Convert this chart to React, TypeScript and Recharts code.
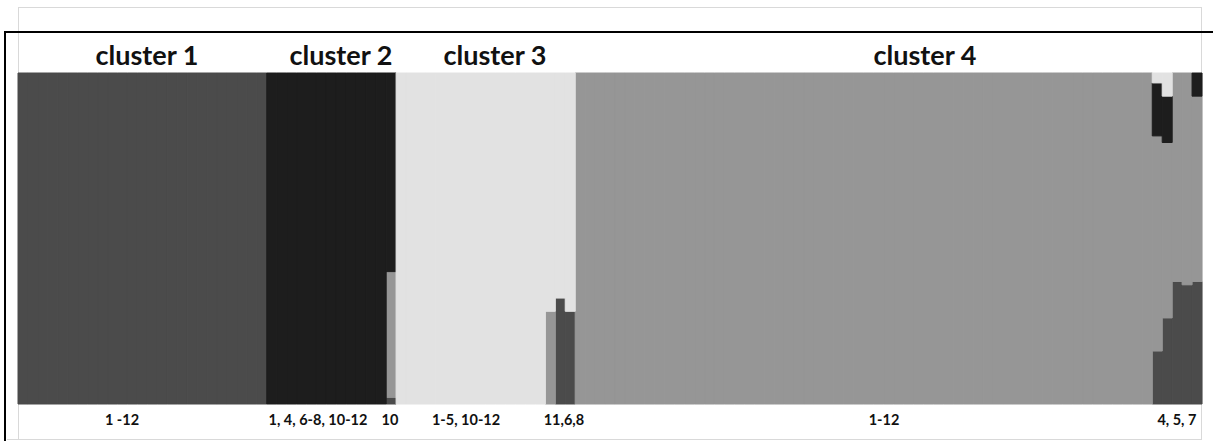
import { BarChart, Bar, XAxis, YAxis } from "recharts";

// membership colours (bottom to top of each stacked column)
const COLORS = {
  q1: "#4b4b4b",
  q4: "#969696",
  q2: "#1d1d1d",
  q3: "#e2e2e2",
};

// number of fully assigned individuals in each cluster
const PURE_COUNTS = [25, 12, 15, 58];

// admixed individuals, in plot order, as [q1, q4, q2, q3]
const ADMIX_C2 = [[0.02, 0.38, 0.6, 0]];
const ADMIX_C3 = [
  [0, 0.28, 0, 0.72],
  [0.32, 0, 0, 0.68],
  [0.28, 0, 0, 0.72],
];
const ADMIX_C4 = [
  [0.16, 0.65, 0.16, 0.03],
  [0.26, 0.53, 0.14, 0.07],
  [0.37, 0.63, 0, 0],
  [0.36, 0.64, 0, 0],
  [0.37, 0.56, 0.07, 0],
];

const PURE_ROWS = [
  [1, 0, 0, 0],
  [0, 0, 1, 0],
  [0, 0, 0, 1],
  [0, 1, 0, 0],
];

// label positions in individual units from the left edge of the plot
const TITLES = ["cluster 1", "cluster 2", "cluster 3", "cluster 4"];
const TITLE_POS = [12.96, 32.46, 47.94, 91.16];

const SITE_LABELS = ["1 -12", "1, 4, 6-8, 10-12", "10", "1-5, 10-12", "11,6,8", "1-12", "4, 5, 7"];
const SITE_POS = [10.45, 30.15, 37.39, 45.03, 54.87, 87.04, 116.48];

const rows: number[][] = [];
const admix = [[], ADMIX_C2, ADMIX_C3, ADMIX_C4];
PURE_COUNTS.forEach((n, c) => {
  for (let i = 0; i < n; i++) rows.push(PURE_ROWS[c]);
  admix[c].forEach((r) => rows.push(r));
});

const data = rows.map((r, i) => ({ id: i, q1: r[0], q4: r[1], q2: r[2], q3: r[3] }));
const N = data.length;

const W = 1213;
const H = 441;
const PLOT_L = 18;
const PLOT_R = 1202;
const BW = (PLOT_R - PLOT_L) / N;

const font = "Lato, 'Open Sans', sans-serif";

const TITLE_IDS = TITLE_POS.map((p) => Math.floor(p));
const SITE_IDS = SITE_POS.map((p) => Math.floor(p));

function labelTick(ids: number[], pos: number[], texts: string[], y: number, size: number) {
  return (p: any) => {
    const k = ids.indexOf(Number(p.payload.value));
    if (k < 0) return <g />;
    const x = p.x + (pos[k] - ids[k] - 0.5) * BW;
    return (
      <text x={x} y={y} textAnchor="middle" fontFamily={font} fontWeight={700} fontSize={size} fill="#111">
        {texts[k]}
      </text>
    );
  };
}

export default function App() {
  return (
    <div style={{ position: "absolute", left: 0, top: 0, width: W, height: H, background: "#fff" }}>
      <div style={{ position: "absolute", left: 18, top: 7, width: 1184, height: 433, border: "1px solid #d9d9d9", boxSizing: "border-box" }} />
      <div style={{ position: "absolute", left: 7, top: 439, width: 1195, height: 1, background: "#d9d9d9" }} />
      <div style={{ position: "absolute", left: 0, top: 0 }}>
        <BarChart
          width={W}
          height={H}
          data={data}
          barCategoryGap={0}
          barGap={0}
          margin={{ top: 33, right: W - PLOT_R, bottom: 7, left: PLOT_L }}
        >
          <XAxis xAxisId="cat" dataKey="id" hide />
          <XAxis
            xAxisId="titles"
            dataKey="id"
            orientation="top"
            ticks={TITLE_IDS}
            interval={0}
            height={40}
            axisLine={false}
            tickLine={false}
            tickSize={0}
            tickMargin={0}
            tick={labelTick(TITLE_IDS, TITLE_POS, TITLES, 65, 27)}
          />
          <XAxis
            xAxisId="sites"
            dataKey="id"
            orientation="bottom"
            ticks={SITE_IDS}
            interval={0}
            height={30}
            axisLine={false}
            tickLine={false}
            tickSize={0}
            tickMargin={0}
            tick={labelTick(SITE_IDS, SITE_POS, SITE_LABELS, 425, 14.5)}
          />
          <YAxis hide domain={[0, 1]} />
          <Bar xAxisId="cat" dataKey="q1" stackId="s" fill={COLORS.q1} stroke={COLORS.q1} strokeWidth={1} isAnimationActive={false} />
          <Bar xAxisId="cat" dataKey="q4" stackId="s" fill={COLORS.q4} stroke={COLORS.q4} strokeWidth={1} isAnimationActive={false} />
          <Bar xAxisId="cat" dataKey="q2" stackId="s" fill={COLORS.q2} stroke={COLORS.q2} strokeWidth={1} isAnimationActive={false} />
          <Bar xAxisId="cat" dataKey="q3" stackId="s" fill={COLORS.q3} stroke={COLORS.q3} strokeWidth={1} isAnimationActive={false} />
        </BarChart>
      </div>
      <div style={{ position: "absolute", left: 5, top: 31, width: 1208, height: 2, background: "#000" }} />
      <div style={{ position: "absolute", left: 4, top: 31, width: 2, height: 410, background: "#000" }} />
    </div>
  );
}
